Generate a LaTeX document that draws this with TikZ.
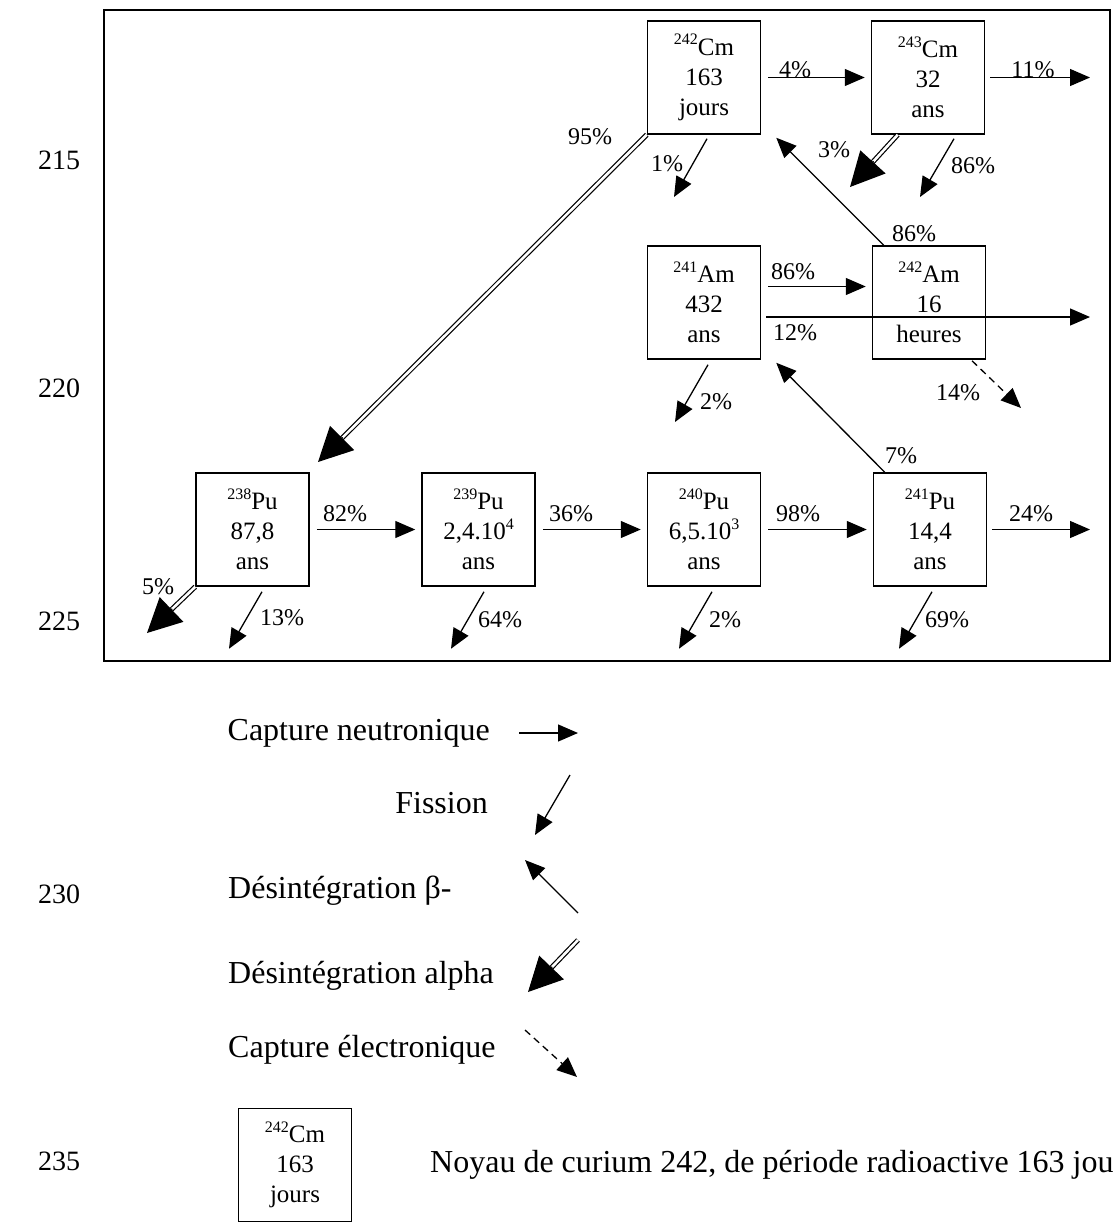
\documentclass[tikz,border=0pt]{standalone}
\usepackage{fontspec}
\setmainfont{Liberation Serif}
\usetikzlibrary{arrows.meta,calc}

\tikzset{
  noyau/.style={draw, line width=1.5pt, minimum width=113pt, minimum height=113pt,
    inner sep=0pt, align=center, font=\fontsize{25}{30}\selectfont},
  taux/.style={inner sep=0pt, font=\fontsize{24}{24}\selectfont},
  legende/.style={inner sep=0pt, font=\fontsize{32}{32}\selectfont},
  numligne/.style={inner sep=0pt, anchor=base west, font=\fontsize{28}{28}\selectfont},
  fleche/.style={line width=1.3pt, -{Triangle[length=20pt,width=17pt]}},
  pointille/.style={fleche, dash pattern=on 7pt off 5pt},
  alphatrait/.style={line width=1.2pt, double, double distance=2.6pt, shorten >=28pt},
  alphapointe/.style={line width=1.2pt, -{Triangle[length=34pt,width=34pt]}}
}
\newcommand{\nucl}[2]{\raisebox{10.5pt}{\fontsize{16}{16}\selectfont #1}#2}
\newcommand{\expo}[1]{\raisebox{10.5pt}{\fontsize{16}{16}\selectfont #1}}
\newcommand{\alphadecay}[2]{%
  \draw[alphatrait] (#1) -- (#2);
  \draw[alphapointe] ($(#2)!35pt!(#1)$) -- (#2);}

\begin{document}
\begin{tikzpicture}[x=1pt,y=-1pt]
  \useasboundingbox (0,0) rectangle (1112,1226);

  % 外框
  \draw[line width=1.5pt] (104,10) rectangle (1110,661);

  % 行号
  \foreach \n/\y in {215/169, 220/397, 225/630, 230/903, 235/1170} {
      \node[numligne] (num\n) at (38,\y) {\n};
  }

  % 核素方框
  \node[noyau] (cm242) at (704,77.5) {\nucl{242}{Cm}\\163\\jours};
  \node[noyau] (cm243) at (928,77.5) {\nucl{243}{Cm}\\32\\ans};
  \node[noyau] (am241) at (704,302.5) {\nucl{241}{Am}\\432\\ans};
  \node[noyau] (am242) at (929,302.5) {\nucl{242}{Am}\\16\\heures};
  \node[noyau] (pu238) at (252.5,529.5) {\nucl{238}{Pu}\\87,8\\ans};
  \node[noyau] (pu239) at (478.5,529.5) {\nucl{239}{Pu}\\2,4.10\expo{4}\\ans};
  \node[noyau] (pu240) at (704,529.5) {\nucl{240}{Pu}\\6,5.10\expo{3}\\ans};
  \node[noyau] (pu241) at (930,529.5) {\nucl{241}{Pu}\\14,4\\ans};

  % 中子俘获
  \draw[fleche, shorten <=7pt, shorten >=6pt] (cm242) -- (cm243);
  \draw[fleche, shorten <=7pt, shorten >=6pt] (pu238) -- (pu239);
  \draw[fleche, shorten <=7pt, shorten >=6pt] (pu239) -- (pu240);
  \draw[fleche, shorten <=7pt, shorten >=6pt] (pu240) -- (pu241);
  \draw[fleche, shorten <=7pt, shorten >=6pt] ([yshift=16pt]am241.east) -- ([yshift=16pt]am242.west);
  \coordinate (o243) at (1090,77.5);
  \coordinate (o241) at (1090,317);
  \coordinate (o241p) at (1090,529.5);
  \draw[fleche, shorten <=5pt] (cm243) -- (o243);
  \draw[fleche, shorten <=5pt] ([yshift=-14.5pt]am241.east) -- (o241);
  \draw[fleche, shorten <=5pt] (pu241) -- (o241p);

  % 裂变
  \coordinate (f242) at (674,197);
  \coordinate (f243) at (920,197);
  \coordinate (f241a) at (675,422);
  \draw[fleche] ([xshift=3pt,yshift=-4pt]cm242.south) -- (f242);
  \draw[fleche] ([xshift=26pt,yshift=-4pt]cm243.south) -- (f243);
  \draw[fleche] ([xshift=4pt,yshift=-5pt]am241.south) -- (f241a);
  \foreach \p/\dx in {pu238/9.5, pu239/5.5, pu240/8, pu241/2} {
      \coordinate (f\p) at ([xshift=\dx pt-33pt, yshift=-62pt]\p.south);
      \draw[fleche] ([xshift=\dx pt, yshift=-5pt]\p.south) -- (f\p);
  }

  % alpha 衰变
  \coordinate (a95) at (318,462);
  \coordinate (a3d) at ([xshift=27pt]cm243.south west);
  \coordinate (a3) at (850,187);
  \coordinate (a5) at (147,633);
  \alphadecay{cm242.south west}{a95}
  \alphadecay{a3d}{a3}
  \alphadecay{pu238.south west}{a5}

  % beta 衰变与电子俘获
  \coordinate (b86) at ([xshift=15pt,yshift=-3pt]cm242.south east);
  \coordinate (b7) at ([xshift=15pt,yshift=-3pt]am241.south east);
  \draw[fleche] ([xshift=12pt]am242.north west) -- (b86);
  \draw[fleche] ([xshift=12pt]pu241.north west) -- (b7);
  \coordinate (e14) at (1021,408);
  \draw[pointille] ([xshift=43pt,yshift=-1pt]am242.south) -- (e14);

  % 百分比
  \node[taux] (t95) at (590,137) {95\%};
  \node[taux] (t1) at (667,164) {1\%};
  \node[taux] (t4) at (795,70) {4\%};
  \node[taux] (t11) at (1033,70) {11\%};
  \node[taux] (t3) at (834,150) {3\%};
  \node[taux] (t86f) at (973,166) {86\%};
  \node[taux] (t86b) at (914,234) {86\%};
  \node[taux] (t86c) at (793,272) {86\%};
  \node[taux] (t12) at (795,333) {12\%};
  \node[taux] (t14) at (958,393) {14\%};
  \node[taux] (t2a) at (716,402) {2\%};
  \node[taux] (t7) at (901,456) {7\%};
  \node[taux] (t82) at (345,514) {82\%};
  \node[taux] (t36) at (571,514) {36\%};
  \node[taux] (t98) at (798,514) {98\%};
  \node[taux] (t24) at (1031,514) {24\%};
  \node[taux] (t5) at (158,587) {5\%};
  \node[taux] (t13) at (282,618) {13\%};
  \node[taux] (t64) at (500,620) {64\%};
  \node[taux] (t2p) at (725,620) {2\%};
  \node[taux] (t69) at (947,620) {69\%};

  % 图例
  \node[legende, anchor=base east] (lcap) at (490,740) {Capture neutronique};
  \node[legende, anchor=base east] (lfis) at (488,813) {Fission};
  \node[legende, anchor=base west] (lbeta) at (228,898) {Désintégration β-};
  \node[legende, anchor=base west] (lalpha) at (228,983) {Désintégration alpha};
  \node[legende, anchor=base west] (lec) at (228,1057) {Capture électronique};
  \coordinate (c1) at (519,733);  \coordinate (c2) at (578,733);
  \coordinate (c3) at (570,775);  \coordinate (c4) at (535,835);
  \coordinate (c5) at (578,913);  \coordinate (c6) at (525,860);
  \coordinate (c7) at (578,940);  \coordinate (c8) at (528,992);
  \coordinate (c9) at (525,1030); \coordinate (c10) at (577,1077);
  \draw[fleche] (c1) -- (c2);
  \draw[fleche] (c3) -- (c4);
  \draw[fleche] (c5) -- (c6);
  \alphadecay{c7}{c8}
  \draw[pointille] (c9) -- (c10);

  % 示例方框
  \node[noyau] (cle) at (295,1165) {\nucl{242}{Cm}\\163\\jours};
  \node[legende, anchor=base west] (lcle) at (430,1172) {Noyau de curium 242, de période radioactive 163 jou};
\end{tikzpicture}
\end{document}
